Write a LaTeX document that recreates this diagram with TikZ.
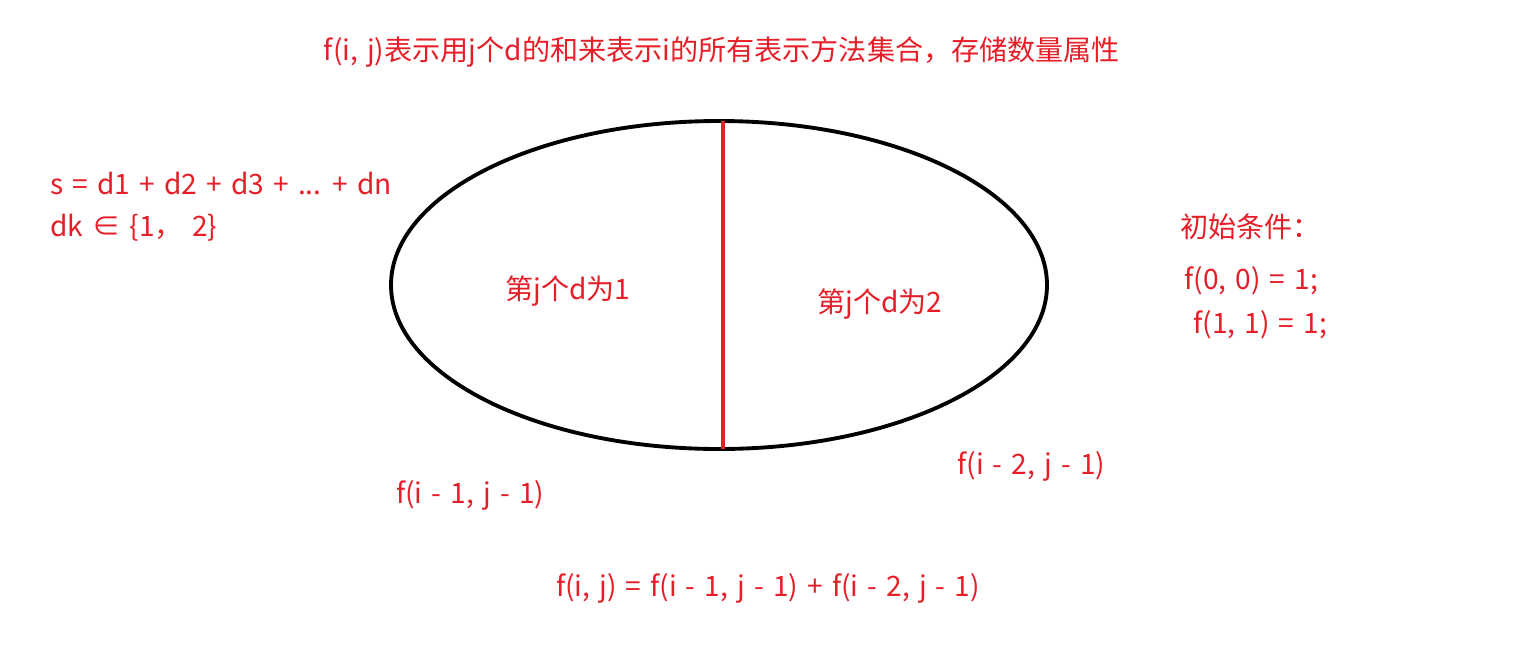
\documentclass[tikz,border=0pt]{standalone}
\usepackage{fontspec}
\setmainfont[WordSpace=1.45]{Noto Sans CJK SC}
\usepackage{xcolor}
\usetikzlibrary{positioning,calc,shapes.geometric}
\definecolor{notered}{RGB}{230,30,40}
\tikzset{
    lbl/.style={text=notered, inner sep=0pt, font=\fontsize{16}{19}\selectfont},
    setline/.style={line width=2.2pt, black},
    divline/.style={line width=2.2pt, notered}
}

\begin{document}
\begin{tikzpicture}[x=0.02cm, y=-0.02cm]
    \useasboundingbox (0,0) rectangle (1538,646);

    % The set
    \node[setline, draw, ellipse, minimum width=656*0.02cm, minimum height=328*0.02cm, inner sep=0pt] (set) at (719,285) {};
    \coordinate (divtop) at (723,121);
    \coordinate (divbot) at (723,449);
    \draw[divline] (divtop) -- (divbot);

    % Title
    \node[lbl] (title) at (722,52) {f(i, j)表示用j个d的和来表示i的所有表示方法集合，存储数量属性};

    % Left notes
    \node[lbl, anchor=west] (sum) at (50,183) {s = d1 + d2 + d3 + ... + dn};
    \node[lbl, anchor=west] (dk) at (50,228) {dk ∈ \{1，\ 2\}};

    % Halves
    \node[lbl] (half1) at (568,291) {第j个d为1};
    \node[lbl] (half2) at (880,304) {第j个d为2};

    % Initial conditions
    \node[lbl, anchor=west] (init) at (1180,227) {初始条件：};
    \node[lbl, anchor=west] (init1) at (1184,281) {f(0, 0) = 1;};
    \node[lbl, anchor=west] (init2) at (1193,325) {f(1, 1) = 1;};

    % Sub-states
    \node[lbl, anchor=west] (sub1) at (396,495) {f(i - 1, j - 1)};
    \node[lbl, anchor=west] (sub2) at (957,466) {f(i - 2, j - 1)};

    % Transition
    \node[lbl] (trans) at (768,588) {f(i, j) = f(i - 1, j - 1) + f(i - 2, j - 1)};
\end{tikzpicture}
\end{document}
